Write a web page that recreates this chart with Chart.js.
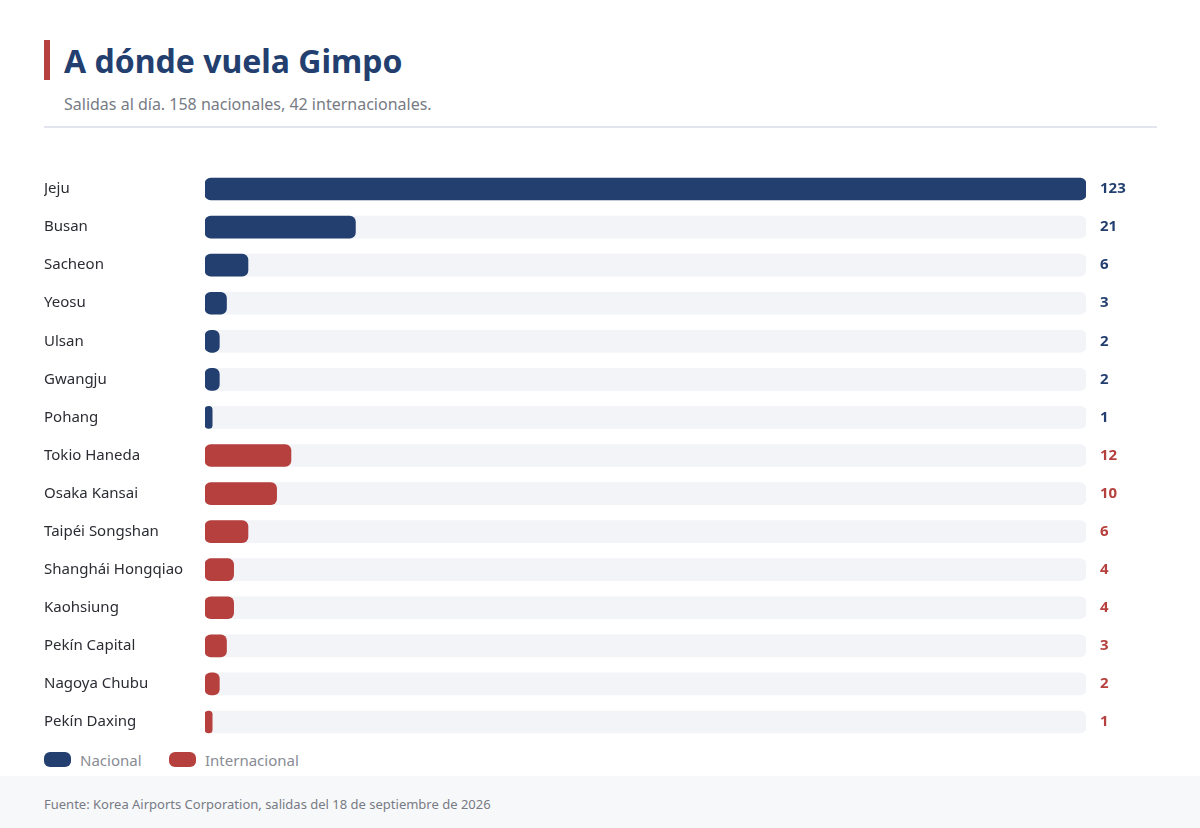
<!DOCTYPE html>
<html lang="es">
<head>
<meta charset="utf-8">
<title>A dónde vuela Gimpo</title>
<script src="https://cdn.jsdelivr.net/npm/chart.js@4.4.1/dist/chart.umd.min.js"></script>
<style>
    html, body {
        margin: 0;
        padding: 0;
        width: 1200px;
        height: 828px;
        background: #ffffff;
        font-family: "Noto Sans", "Open Sans", sans-serif;
        overflow: hidden;
        position: relative;
    }
    #title-bar {
        position: absolute;
        left: 44px;
        top: 40px;
        width: 6px;
        height: 40px;
        background: #b5403e;
    }
    h1 {
        position: absolute;
        left: 64px;
        top: 39px;
        margin: 0;
        font-size: 32px;
        line-height: 44px;
        font-weight: 700;
        color: #233f6f;
    }
    #subtitle {
        position: absolute;
        left: 64px;
        top: 93px;
        font-size: 16px;
        line-height: 22px;
        color: #777b84;
    }
    #rule {
        position: absolute;
        left: 44px;
        top: 126px;
        width: 1113px;
        height: 2px;
        background: #e3e5ee;
    }
    #chart-wrap {
        position: absolute;
        left: 44px;
        top: 170px;
        width: 1113px;
        height: 571px;
    }
    #legend {
        position: absolute;
        left: 44px;
        top: 750px;
        height: 20px;
        font-size: 15px;
        color: #888c94;
    }
    .legend-item {
        position: absolute;
        top: 0;
        white-space: nowrap;
        line-height: 20px;
    }
    .legend-box {
        position: absolute;
        top: 2px;
        width: 27px;
        height: 15px;
        border-radius: 6px;
    }
    #footer {
        position: absolute;
        left: 0;
        top: 776px;
        width: 1200px;
        height: 52px;
        background: #f7f8fa;
    }
    #footer span {
        position: absolute;
        left: 44px;
        top: 19px;
        font-size: 13px;
        line-height: 18px;
        color: #777b84;
    }
</style>
</head>
<body>
<div id="title-bar"></div>
<h1>A dónde vuela Gimpo</h1>
<div id="subtitle">Salidas al día. 158 nacionales, 42 internacionales.</div>
<div id="rule"></div>

<div id="chart-wrap"><canvas id="gimpo-chart"></canvas></div>

<div id="legend">
    <div class="legend-item" style="left:0">
        <div class="legend-box" style="left:0;background:#233f6f"></div>
        <span style="position:absolute;left:36px">Nacional</span>
    </div>
    <div class="legend-item" style="left:125px">
        <div class="legend-box" style="left:0;background:#b5403e"></div>
        <span style="position:absolute;left:36px">Internacional</span>
    </div>
</div>

<div id="footer"><span>Fuente: Korea Airports Corporation, salidas del 18 de septiembre de 2026</span></div>

<script>
const destinos = [
    'Jeju', 'Busan', 'Sacheon', 'Yeosu', 'Ulsan', 'Gwangju', 'Pohang',
    'Tokio Haneda', 'Osaka Kansai', 'Taipéi Songshan', 'Shanghái Hongqiao',
    'Kaohsiung', 'Pekín Capital', 'Nagoya Chubu', 'Pekín Daxing'
];
const salidas = [123, 21, 6, 3, 2, 2, 1, 12, 10, 6, 4, 4, 3, 2, 1];
const tipos = [
    'nacional', 'nacional', 'nacional', 'nacional', 'nacional', 'nacional', 'nacional',
    'internacional', 'internacional', 'internacional', 'internacional',
    'internacional', 'internacional', 'internacional', 'internacional'
];

const colores = { nacional: '#233f6f', internacional: '#b5403e' };
const maxSalidas = Math.max(...salidas);

// draws the numbers to the right of each track
const valueLabels = {
    id: 'valueLabels',
    afterDatasetsDraw(chart) {
        const ctx = chart.ctx;
        const meta = chart.getDatasetMeta(0);
        ctx.save();
        ctx.font = 'bold 15px "Noto Sans", sans-serif';
        ctx.textBaseline = 'middle';
        ctx.textAlign = 'left';
        meta.data.forEach((bar, i) => {
            ctx.fillStyle = colores[tipos[i]];
            ctx.fillText(String(salidas[i]), chart.chartArea.right + 14, bar.y);
        });
        ctx.restore();
    }
};

const ctx = document.getElementById('gimpo-chart').getContext('2d');
new Chart(ctx, {
    type: 'bar',
    data: {
        labels: destinos,
        datasets: [
            {
                label: 'Salidas',
                data: salidas,
                backgroundColor: tipos.map(t => colores[t]),
                borderRadius: 6,
                borderSkipped: false,
                barThickness: 22,
                grouped: false,
                order: 0
            },
            {
                label: 'Pista',
                data: salidas.map(() => maxSalidas),
                backgroundColor: '#f2f4f8',
                borderRadius: 6,
                borderSkipped: false,
                barThickness: 22,
                grouped: false,
                order: 1
            }
        ]
    },
    options: {
        indexAxis: 'y',
        responsive: true,
        maintainAspectRatio: false,
        animation: false,
        layout: {
            padding: { left: 0, right: 71, top: 0, bottom: 0 }
        },
        plugins: {
            legend: { display: false },
            tooltip: { enabled: false }
        },
        scales: {
            x: {
                display: false,
                min: 0,
                max: maxSalidas
            },
            y: {
                afterFit(axis) {
                    axis.width = 161;
                    // no extra room for the first/last label, rows fill the box
                    axis.paddingTop = 0;
                    axis.paddingBottom = 0;
                },
                grid: { display: false },
                border: { display: false },
                ticks: {
                    crossAlign: 'far',
                    padding: 0,
                    color: '#2b2d33',
                    font: { family: '"Noto Sans", sans-serif', size: 15 }
                }
            }
        }
    },
    plugins: [valueLabels]
});
</script>
</body>
</html>
